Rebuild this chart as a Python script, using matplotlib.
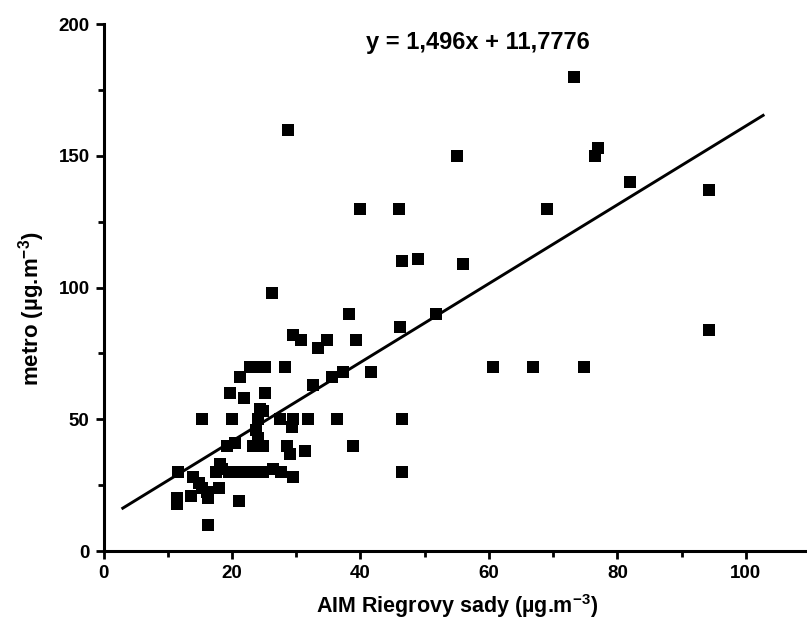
import matplotlib
matplotlib.use("Agg")
import matplotlib.pyplot as plt
import numpy as np
from matplotlib.ticker import MultipleLocator

plt.rcParams['font.family'] = ['Liberation Sans', 'DejaVu Sans']
plt.rcParams['font.weight'] = 'bold'
plt.rcParams['mathtext.fontset'] = 'custom'
plt.rcParams['mathtext.bf'] = 'Liberation Sans:bold'
plt.rcParams['mathtext.rm'] = 'Liberation Sans:bold'
plt.rcParams['mathtext.default'] = 'bf'

# --- data (AIM Riegrovy sady vs metro) ---
aim_x = [28.7, 55.0, 39.9, 46.0, 46.4, 48.9, 55.9, 26.3, 73.2, 77.0, 76.6, 82.0,
         94.3, 69.1, 94.3, 60.6, 66.9, 74.8, 51.8, 38.2, 46.2,
         29.45, 30.7, 33.4, 34.8, 39.3, 25.1, 28.3, 22.8, 24.0, 32.6, 35.5, 37.3,
         41.7, 21.2, 19.7, 21.9, 25.1,
         15.4, 20.0, 27.5, 29.5, 31.9, 36.4, 46.4,
         24.9, 24.4, 24.0, 23.8, 29.3,
         19.3, 20.5, 23.3, 24.9, 28.5, 29.0, 31.3, 38.8, 24.1,
         11.6, 17.5, 18.5, 19.5, 20.5, 22.0, 23.0, 24.0, 24.9, 26.4, 27.7, 29.45,
         46.4, 18.1,
         14.0, 14.8, 15.3, 16.1, 13.7, 11.4, 11.4, 16.3, 16.2, 21.1, 18.0]
metro_y = [160, 150, 130, 130, 110, 111, 109, 98, 180, 153, 150, 140,
           137, 130, 84, 70, 70, 70, 90, 90, 85,
           82, 80, 77, 80, 80, 70, 70, 70, 70, 63, 66, 68,
           68, 66, 60, 58, 60,
           50, 50, 50, 50, 50, 50, 50,
           53, 54, 50, 46, 47,
           40, 41, 40, 40, 40, 37, 38, 40, 43,
           30, 30, 31, 30, 30, 30, 30, 30, 30, 31, 30, 28,
           30, 33,
           28, 26, 24, 22.5, 21, 18, 20, 20, 10, 19, 24]

# regression line parameters (from chart annotation)
slope = 1.496
intercept = 11.7776
fit_x_range = [3.0, 102.7]
equation_text = "y = 1,496x + 11,7776"

x_ticks = [0, 20, 40, 60, 80, 100]
y_ticks = [0, 50, 100, 150, 200]

fig = plt.figure(figsize=(8.07, 6.34), dpi=100)
ax = fig.add_axes([103.5 / 807, 83 / 634, (810 - 103.5) / 807, (551 - 24.3) / 634])

ax.scatter(aim_x, metro_y, marker='s', s=85, color='black', linewidths=0, zorder=3)

fx = np.array(fit_x_range)
ax.plot(fx, slope * fx + intercept, color='black', lw=2.1, zorder=2)

ax.set_xlim(0, 110)
ax.set_ylim(0, 200)
ax.set_xticks(x_ticks)
ax.set_yticks(y_ticks)
ax.xaxis.set_minor_locator(MultipleLocator(10))
ax.yaxis.set_minor_locator(MultipleLocator(25))

for s in ['top', 'right']:
    ax.spines[s].set_visible(False)
for s in ['left', 'bottom']:
    ax.spines[s].set_linewidth(2.2)

ax.tick_params(which='major', direction='out', length=6, width=2, labelsize=13.5, pad=4)
ax.tick_params(which='minor', direction='out', length=4, width=2)
for lab in ax.get_xticklabels() + ax.get_yticklabels():
    lab.set_fontweight('bold')

ax.set_xlabel(r"AIM Riegrovy sady (µg.m$^{-3}$)", fontsize=15.5, fontweight='bold', labelpad=7)
ax.set_ylabel(r"metro (µg.m$^{-3}$)", fontsize=16, fontweight='bold')
ax.yaxis.set_label_coords(-0.08, 0.46)

ax.text(0.53, 0.965, equation_text, transform=ax.transAxes, ha='center', va='center',
        fontsize=17, fontweight='bold')

fig.savefig("out.png", dpi=100)
